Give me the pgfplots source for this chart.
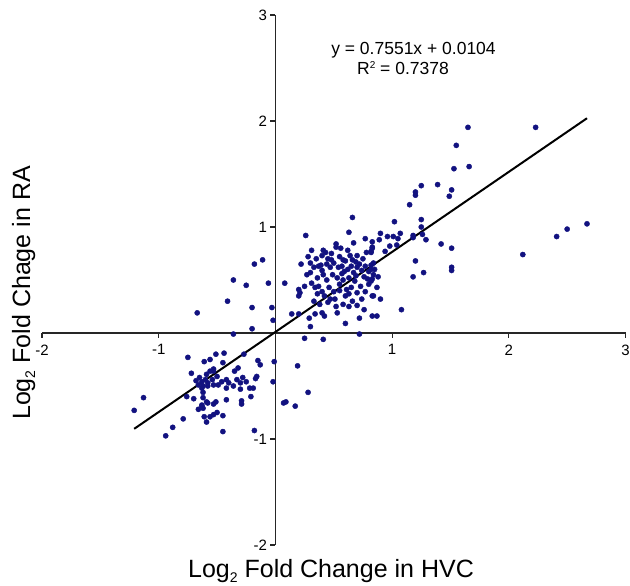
\documentclass[border=0pt]{standalone}
\usepackage{pgfplots}
\pgfplotsset{compat=1.18}
\usepackage{fontspec}
\setmainfont{Liberation Sans}
\definecolor{dotblue}{RGB}{18,18,128}
\newcommand{\lowtwo}{{\fontsize{14}{14}\selectfont\raisebox{-5pt}{2}}}

\begin{document}
\begin{tikzpicture}
\begin{axis}[
  scale only axis, width=583.5pt, height=530pt,
  axis lines=middle,
  axis line style={-, line width=1.5pt, black!85},
  xmin=-2, xmax=3, ymin=-2, ymax=3,
  xtick={-2,-1,1,2,3}, xticklabels={-2,-1,1,2,3},
  ytick={-2,-1,1,2,3}, yticklabels={-2,-1,1,2,3},
  tick align=outside, major tick length=5pt,
  tick style={line width=1.1pt, black!85},
  ticklabel style={font=\fontsize{15}{15}\selectfont},
  xticklabel style={yshift=-3pt},
  clip=false,
]
% log2 fold change: HVC (x) vs RA (y)
\addplot[only marks, mark=*, mark size=2.6pt, dotblue] table {
x y
1.65 1.94
2.23 1.94
1.55 1.77
1.66 1.57
1.53 1.55
1.25 1.39
1.39 1.40
1.20 1.33
1.20 1.30
1.51 1.35
1.49 1.29
1.15 1.21
0.66 1.09
1.02 1.05
1.25 1.07
1.25 1.00
0.63 0.95
0.90 0.94
0.89 0.88
0.96 0.91
1.01 0.91
1.07 0.94
1.05 0.89
1.18 0.92
1.18 0.90
1.26 0.93
1.29 0.88
1.42 0.84
1.51 0.80
2.12 0.74
2.41 0.91
2.50 0.98
2.67 1.03
1.20 0.68
1.51 0.62
1.51 0.59
1.18 0.53
1.27 0.57
0.83 0.86
0.83 0.80
0.82 0.76
0.94 0.77
0.98 0.82
1.04 0.83
0.84 0.66
0.82 0.60
0.85 0.60
0.84 0.55
0.88 0.53
0.83 0.51
0.87 0.43
0.83 0.35
0.90 0.32
1.08 0.22
0.83 0.16
0.87 0.16
0.26 0.92
0.52 0.84
0.52 0.81
0.67 0.85
0.77 0.89
0.31 0.78
0.41 0.78
0.43 0.76
0.40 0.73
0.45 0.70
0.55 0.72
0.58 0.69
0.62 0.78
0.64 0.73
0.66 0.69
0.70 0.73
0.78 0.76
0.82 0.77
0.83 0.81
0.22 0.65
0.30 0.66
0.33 0.62
0.30 0.57
0.37 0.63
0.40 0.59
0.41 0.55
0.44 0.65
0.47 0.62
0.50 0.66
0.54 0.62
0.57 0.63
0.59 0.58
0.62 0.60
0.65 0.63
0.67 0.57
0.70 0.62
0.72 0.65
0.74 0.59
0.77 0.63
0.80 0.58
0.82 0.64
0.08 0.47
0.20 0.41
0.20 0.35
0.21 0.38
0.25 0.44
0.31 0.47
0.34 0.43
0.37 0.44
0.40 0.39
0.36 0.37
0.42 0.35
0.47 0.32
0.45 0.29
0.50 0.39
0.51 0.32
0.55 0.46
0.58 0.50
0.60 0.35
0.61 0.41
0.65 0.43
0.68 0.49
0.70 0.38
0.73 0.44
0.74 0.32
0.77 0.39
0.80 0.46
0.82 0.49
0.84 0.35
0.28 0.72
0.35 0.70
0.48 0.75
0.56 0.80
0.60 0.68
0.69 0.67
0.75 0.70
0.36 0.52
0.44 0.50
0.49 0.55
0.53 0.52
0.57 0.56
0.63 0.52
0.69 0.54
0.76 0.53
0.79 0.51
0.46 0.43
0.55 0.40
0.63 0.37
0.66 0.30
0.58 0.27
0.52 0.25
0.38 0.27
0.33 0.30
0.70 0.26
0.48 0.69
0.39 0.64
0.27 0.55
0.14 0.18
0.20 0.18
0.29 0.14
0.34 0.18
0.40 0.19
0.42 0.16
0.30 0.06
0.53 0.19
0.60 0.09
0.63 0.25
0.76 0.22
0.72 0.14
0.25 -0.05
0.41 -0.06
0.72 -0.01
-0.11 0.69
-0.18 0.65
-0.36 0.50
-0.25 0.45
-0.06 0.47
-0.41 0.30
-0.67 0.19
-0.20 0.24
-0.03 0.24
-0.02 0.12
-0.20 0.04
-0.36 -0.01
0.07 -0.66
0.09 -0.65
0.19 -0.31
0.28 -0.56
0.17 -0.69
-0.61 -0.27
-0.56 -0.25
-0.51 -0.20
-0.44 -0.19
-0.45 -0.28
-0.27 -0.20
-0.15 -0.26
-0.13 -0.30
-0.01 -0.27
-0.02 -0.46
-0.56 -0.36
-0.53 -0.36
-0.59 -0.39
-0.50 -0.41
-0.54 -0.44
-0.58 -0.47
-0.53 -0.49
-0.49 -0.49
-0.62 -0.50
-0.46 -0.46
-0.42 -0.44
-0.40 -0.47
-0.42 -0.52
-0.36 -0.50
-0.35 -0.36
-0.32 -0.33
-0.33 -0.44
-0.30 -0.47
-0.28 -0.42
-0.25 -0.46
-0.30 -0.53
-0.22 -0.52
-0.19 -0.52
-0.16 -0.41
-0.17 -0.43
-0.62 -0.61
-0.63 -0.68
-0.59 -0.65
-0.51 -0.65
-0.42 -0.63
-0.29 -0.64
-0.29 -0.67
-0.21 -0.60
-0.61 -0.79
-0.56 -0.79
-0.53 -0.77
-0.50 -0.75
-0.45 -0.78
-0.59 -0.84
-0.45 -0.93
-0.18 -0.92
-0.75 -0.23
-0.72 -0.38
-0.68 -0.45
-0.66 -0.49
-0.63 -0.46
-0.76 -0.60
-0.70 -0.62
-1.13 -0.61
-1.21 -0.73
-0.66 -0.72
-0.63 -0.69
-0.79 -0.81
-0.88 -0.89
-0.94 -0.97
-0.65 -0.42
-0.60 -0.44
-0.63 -0.52
-0.58 -0.50
-0.62 -0.56
-0.58 -0.66
-0.53 -0.67
-0.62 -0.71
-0.53 -0.34
};
% fitted line y = 0.7551x + 0.0104
\addplot[black, line width=2pt] coordinates {(-1.21,-0.904) (2.67,2.026)};
\coordinate (ll) at (axis cs:-2,-2);
\coordinate (ur) at (axis cs:3,3);
\end{axis}
\pgfresetboundingbox
\path[use as bounding box] ([shift={(-42pt,-40pt)}]ll) rectangle ([shift={(4.5pt,15pt)}]ur);
\node[anchor=base, inner sep=0pt, font=\fontsize{25}{25}\selectfont]
  at ([shift={(289pt,-32pt)}]ll) {Log\lowtwo\ Fold Change in HVC};
\node[anchor=base, rotate=90, inner sep=0pt, font=\fontsize{25}{25}\selectfont]
  at ([shift={(-12pt,252pt)}]ll) {Log\lowtwo\ Fold Chage in RA};
\node[anchor=base, inner sep=0pt, font=\fontsize{17.5}{17.5}\selectfont]
  at ([shift={(371.5pt,490pt)}]ll) {y = 0.7551x + 0.0104};
\node[anchor=base, inner sep=0pt, font=\fontsize{17.5}{17.5}\selectfont]
  at ([shift={(361pt,470pt)}]ll) {R{\fontsize{10}{10}\selectfont\raisebox{6pt}{2}} = 0.7378};
\end{tikzpicture}
\end{document}
